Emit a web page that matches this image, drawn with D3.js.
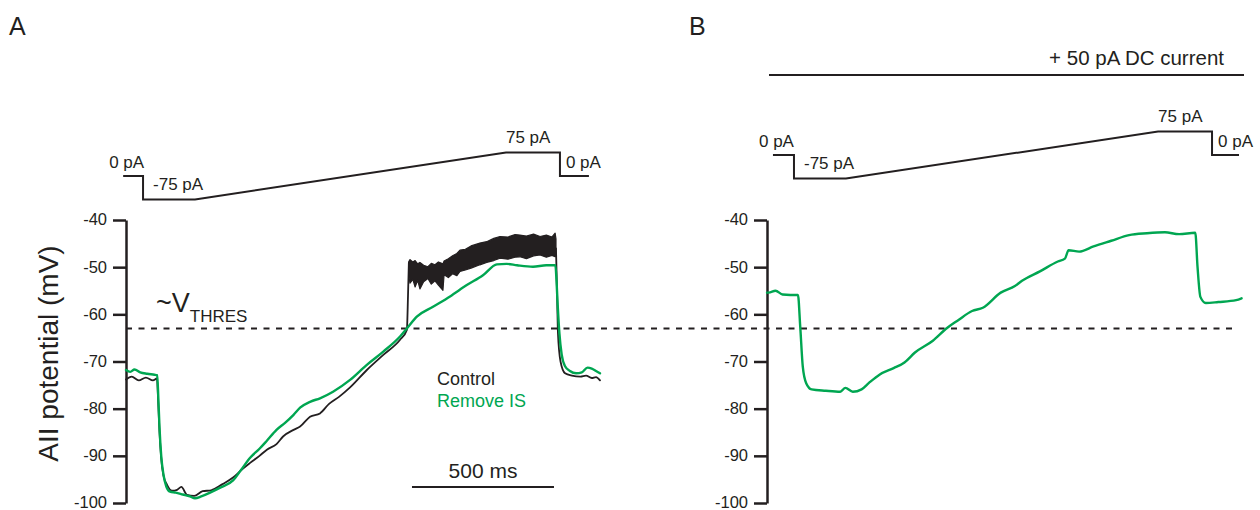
<!DOCTYPE html>
<html>
<head>
<meta charset="utf-8">
<script src="https://cdn.jsdelivr.net/npm/d3@7"></script>
<style>
  body { margin: 0; background: #fff; }
  svg { display: block; font-family: "Liberation Sans", Arial, sans-serif; }
</style>
</head>
<body>
<div id="chart"></div>
<script>
// ---- data (time in ms, potential in mV, current in pA) ----
let yTicks = [-40, -50, -60, -70, -80, -90, -100];
let threshold = -63;
let stimLabels = ["0 pA", "-75 pA", "75 pA", "0 pA"];
let seriesNames = ["Control", "Remove IS"];

// command current, panel A and B
let stimA = [[-10, 0], [60, 0], [60, -75], [243, -75], [1338, 75], [1528, 75], [1528, 0], [1630, 0]];
let stimB = [[21, 0], [95, 0], [95, -75], [278, -75], [1377, 75], [1567, 75], [1567, 0], [1662, 0]];

// panel A, Remove IS (green)
let removeA = [[0, -71.8], [15, -72.2], [30, -71.7], [50, -72.3], [75, -72.6], [100, -72.8], [110, -72.9],
  [114, -78], [118, -84], [124, -90], [132, -94], [142, -96.5], [155, -97.6], [175, -97.8], [200, -98.2],
  [225, -98.6], [243, -99], [265, -98.6], [296, -97.8], [330, -96.8], [377, -95.2], [405, -93], [437, -90.4],
  [470, -88.5], [496, -86.8], [530, -84.5], [560, -83], [590, -81.3], [613, -79.8], [650, -78.5], [683, -77.8],
  [729, -76.4], [789, -73.9], [848, -70.7], [906, -67.9], [965, -64.7], [989, -63], [1024, -60.5], [1081, -58.4],
  [1141, -56.2], [1200, -53.8], [1257, -51.7], [1306, -49.4], [1340, -49.3], [1377, -49.6], [1433, -49.9],
  [1480, -49.6], [1512, -49.6], [1516, -53], [1520, -58], [1526, -64], [1534, -68.5], [1546, -71], [1563, -72],
  [1585, -72.5], [1605, -72.3], [1625, -71.3], [1640, -71.5], [1655, -72], [1669, -72.5]];

// panel A, Control (black) before firing
let controlPreA = [[0, -73.8], [20, -73.2], [45, -74], [70, -73.4], [95, -74], [109, -73.6], [113, -78],
  [118, -85], [124, -90.5], [132, -94.2], [145, -96.2], [162, -97.4], [180, -97.2], [195, -96.6], [215, -98.3],
  [240, -98.5], [270, -97.5], [300, -97.3], [340, -96], [377, -94.6], [410, -92.8], [437, -91.5], [470, -90],
  [496, -88.7], [530, -87.5], [553, -85.9], [590, -84.5], [613, -83.8], [648, -81.7], [683, -81], [715, -79],
  [750, -77.5], [789, -75.5], [848, -71.8], [906, -68.6], [965, -65.4], [989, -63.3], [993, -56], [996, -49]];

// panel A, Control firing band: [time, top, bottom]
let controlBandA = [[996, -48.8, -52], [1000, -48.4, -53.4], [1010, -48.9, -52.6], [1018, -48.6, -54.2],
  [1027, -49.3, -52.8], [1035, -49.0, -54.6], [1048, -49.6, -53.1], [1063, -49.9, -52.4], [1075, -49.2, -53.6],
  [1088, -49.5, -52.9], [1100, -48.9, -53.8], [1116, -49.3, -54.9], [1120, -48.7, -51.6], [1135, -48.2, -52.2],
  [1150, -47.6, -51.4], [1165, -47.1, -51.8], [1176, -46.4, -50.9], [1195, -46.2, -50.6], [1215, -45.5, -50.2],
  [1246, -44.9, -49.5], [1270, -44.6, -49.0], [1295, -43.9, -48.6], [1317, -43.5, -48.1], [1345, -43.6, -48.3],
  [1370, -43.1, -47.9], [1387, -43.2, -47.8], [1410, -43.4, -48.2], [1435, -43.0, -47.6], [1458, -43.5, -47.4],
  [1480, -43.2, -47.9], [1500, -43.6, -47.5], [1511, -42.8, -47.8], [1514, -44, -47.5]];

// panel A, Control after the ramp
let controlPostA = [[1514, -46], [1518, -56], [1521, -64], [1530, -70], [1546, -72.5], [1570, -73],
  [1600, -73.2], [1620, -73], [1640, -73.5], [1655, -73.3], [1669, -74]];

// panel B, Remove IS + 50 pA DC
let removeB = [[0, -55.4], [6, -55.4], [30, -55], [55, -55.8], [82, -55.9], [109, -55.9], [117, -62.6],
  [126, -71.1], [138, -74.6], [157, -75.9], [207, -76.2], [258, -76.4], [276, -75.6], [302, -76.4],
  [333, -75.9], [358, -74.6], [396, -72.8], [446, -71.4], [484, -70.2], [521, -68.1], [584, -65.6],
  [634, -62.9], [672, -61.3], [722, -59.3], [760, -58.6], [823, -55.4], [873, -54.0], [898, -52.9],
  [961, -50.9], [1024, -48.8], [1049, -48.2], [1062, -46.4], [1099, -46.7], [1150, -45.6], [1212, -44.4],
  [1275, -43.2], [1338, -42.8], [1401, -42.6], [1451, -43.0], [1508, -42.7], [1516, -50], [1526, -56.3],
  [1545, -57.6], [1589, -57.4], [1652, -57], [1671, -56.6]];

// ---- layout ----
let width = 1260;
let height = 510;
let ink = "#231f20";
let green = "#00a651";
let font = "\"Liberation Sans\", Arial, sans-serif";
let pxPerMs = 0.284;

let svg = d3.select("#chart")
  .append("svg")
  .attr("width", width)
  .attr("height", height)
  .attr("viewBox", [0, 0, width, height]);

let yScale = d3.scaleLinear().domain([-100, -40]).range([503, 220]);

function timeScale(axisX) {
  return d3.scaleLinear().domain([0, 1700]).range([axisX, axisX + 1700 * pxPerMs]);
}

function stimScale(zeroY) {
  return d3.scaleLinear().domain([-75, 75]).range([zeroY + 23.5, zeroY - 23.5]);
}

function drawAxis(axisX) {
  let g = svg.append("g")
    .attr("transform", `translate(${axisX},0)`)
    .call(d3.axisLeft(yScale).tickValues(yTicks).tickSize(13).tickSizeOuter(0).tickPadding(6).tickFormat(d => String(d)));
  g.select(".domain").attr("stroke", ink).attr("stroke-width", 2.5);
  g.selectAll(".tick line").attr("stroke", ink).attr("stroke-width", 2.5);
  g.selectAll(".tick text")
    .attr("fill", ink)
    .attr("font-family", font)
    .attr("font-size", 16.5)
    .attr("dy", "0.3em");
}

function drawStim(data, xs, zeroY) {
  let ss = stimScale(zeroY);
  let line = d3.line().x(d => xs(d[0])).y(d => ss(d[1]));
  svg.append("path")
    .datum(data)
    .attr("fill", "none")
    .attr("stroke", ink)
    .attr("stroke-width", 2)
    .attr("stroke-linejoin", "miter")
    .attr("d", line);
  // label anchors: start, step down, ramp end, step back
  let anchors = [
    {p: data[0], dx: -14, dy: -8},
    {p: data[2], dx: 10, dy: -10},
    {p: data[4], dx: 0, dy: -10},
    {p: data[6], dx: 6, dy: -8}
  ];
  svg.append("g")
    .attr("font-family", font)
    .attr("font-size", 17)
    .attr("fill", ink)
    .selectAll("text")
    .data(anchors)
    .join("text")
    .attr("x", d => xs(d.p[0]) + d.dx)
    .attr("y", d => ss(d.p[1]) + d.dy)
    .text((d, i) => stimLabels[i]);
}

function trace(data, xs, color, w) {
  let line = d3.line()
    .curve(d3.curveMonotoneX)
    .x(d => xs(d[0]))
    .y(d => yScale(d[1]));
  svg.append("path")
    .datum(data)
    .attr("fill", "none")
    .attr("stroke", color)
    .attr("stroke-width", w)
    .attr("stroke-linejoin", "round")
    .attr("stroke-linecap", "round")
    .attr("d", line);
}

// ---- panel A ----
let xA = timeScale(126);
let xB = timeScale(767);

// threshold across both panels
svg.append("line")
  .attr("x1", 126)
  .attr("x2", 1235)
  .attr("y1", yScale(threshold))
  .attr("y2", yScale(threshold))
  .attr("stroke", ink)
  .attr("stroke-width", 2)
  .attr("stroke-dasharray", "6,6.5");

drawAxis(126);
drawStim(stimA, xA, 176);

trace(controlPreA, xA, ink, 1.8);
svg.append("path")
  .datum(controlBandA)
  .attr("fill", ink)
  .attr("stroke", ink)
  .attr("stroke-width", 1.2)
  .attr("stroke-linejoin", "round")
  .attr("d", d3.area()
    .x(d => xA(d[0]))
    .y0(d => yScale(d[2]))
    .y1(d => yScale(d[1])));
trace(controlPostA, xA, ink, 1.8);
trace(removeA, xA, green, 2.4);

// panel letters
svg.append("text").attr("x", 9).attr("y", 35).attr("font-family", font).attr("font-size", 25).attr("fill", ink).text("A");
svg.append("text").attr("x", 689).attr("y", 35).attr("font-family", font).attr("font-size", 25).attr("fill", ink).text("B");

// y title
svg.append("text")
  .attr("transform", `translate(58,${yScale(-70) - 8}) rotate(-90)`)
  .attr("text-anchor", "middle")
  .attr("font-family", font)
  .attr("font-size", 28)
  .attr("fill", ink)
  .text("AII potential (mV)");

// ~V THRES
let vt = svg.append("text")
  .attr("x", 156)
  .attr("y", 312)
  .attr("font-family", font)
  .attr("fill", ink);
vt.append("tspan").attr("font-size", 27).text("~V");
vt.append("tspan").attr("font-size", 17).attr("dy", 10).text("THRES");

// legend
svg.append("g")
  .attr("font-family", font)
  .attr("font-size", 18)
  .selectAll("text")
  .data(seriesNames)
  .join("text")
  .attr("x", 437)
  .attr("y", (d, i) => 385 + i * 22)
  .attr("fill", (d, i) => i === 0 ? ink : green)
  .text(d => d);

// 500 ms scale bar
let barStart = 1007;
svg.append("line")
  .attr("x1", xA(barStart))
  .attr("x2", xA(barStart + 500))
  .attr("y1", 487)
  .attr("y2", 487)
  .attr("stroke", ink)
  .attr("stroke-width", 2);
svg.append("text")
  .attr("x", xA(barStart + 250))
  .attr("y", 478)
  .attr("text-anchor", "middle")
  .attr("font-family", font)
  .attr("font-size", 21)
  .attr("fill", ink)
  .text("500 ms");

// ---- panel B ----
drawAxis(767);
drawStim(stimB, xB, 155);
trace(removeB, xB, green, 2.4);

svg.append("line")
  .attr("x1", 769)
  .attr("x2", 1244)
  .attr("y1", 75)
  .attr("y2", 75)
  .attr("stroke", ink)
  .attr("stroke-width", 2);
svg.append("text")
  .attr("x", 1224)
  .attr("y", 65)
  .attr("text-anchor", "end")
  .attr("font-family", font)
  .attr("font-size", 20.5)
  .attr("fill", ink)
  .text("+ 50 pA DC current");
</script>
</body>
</html>
